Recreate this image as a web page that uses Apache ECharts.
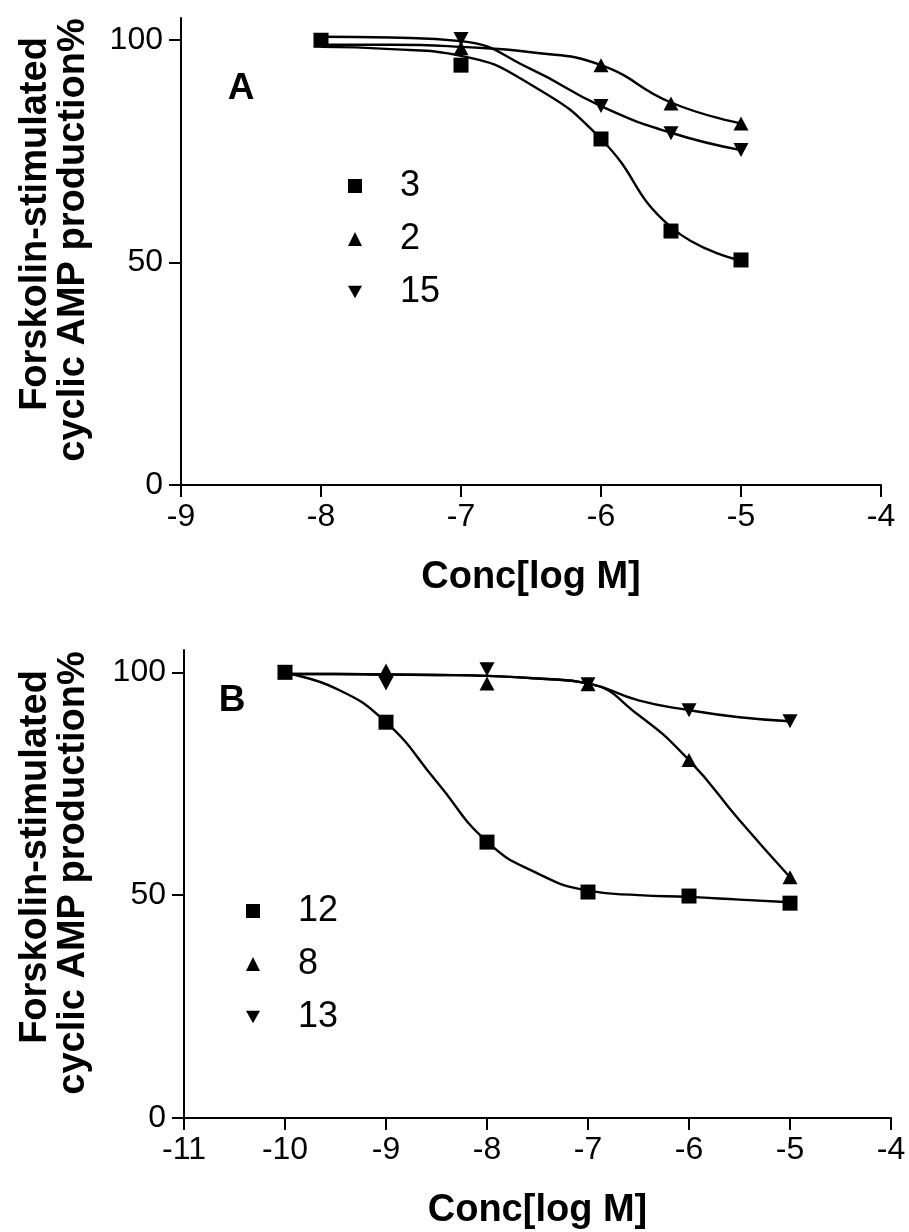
<!DOCTYPE html>
<html><head><meta charset="utf-8">
<script src="https://cdn.jsdelivr.net/npm/echarts@6/dist/echarts.min.js"></script>
<style>html,body{margin:0;padding:0;background:#fff}#c{width:909px;height:1232px}</style>
</head><body><div id="c"></div>
<script>
// Panel A data (log M concentrations, % of forskolin-stimulated cAMP)
const xA = [-8, -7, -6, -5.5, -5];
const a3 = [100, 94.4, 77.8, 57.1, 50.6];
const a2 = [100, 98.2, 94.4, 85.8, 81.3];
const a15 = [100, 100.3, 85.2, 79.1, 75.3];
// Panel A fitted curves
const fitXA = [-8, -7.5, -7, -6.5, -6, -5.5, -5];
const fitA3 = [98.5, 98, 96.5, 90, 77.8, 58, 50.5];
const fitA2 = [99, 99, 98.5, 97.3, 94.4, 86, 81.3];
const fitA15 = [100.8, 100.6, 99.8, 93.5, 85.2, 79.2, 75.3];
// Panel B data
const xB = [-10, -9, -8, -7, -6, -5];
const b12 = [100, 88.8, 61.9, 50.7, 49.8, 48.2];
const b8 = [100, 100.4, 97.5, 97.3, 80.3, 54];
const b13 = [100, 97.5, 100.7, 97.3, 91.5, 89];
// Panel B fitted curves
const fitXB = [-10, -9.5, -9, -8.5, -8, -7.5, -7, -6.5, -6, -5.5, -5];
const fitB12 = [99.8, 96.4, 88.8, 75.5, 62, 54.9, 51, 50, 49.6, 49, 48.4];
const fitB8 = [99.6, 99.6, 99.5, 99.4, 99.2, 98.6, 97.5, 90.4, 80.3, 66.8, 54];
const fitB13 = [99.6, 99.6, 99.5, 99.4, 99.2, 98.6, 97.5, 93.7, 91.5, 89.9, 89];
// Axis ticks
const yTicks = [0, 50, 100];
const xRangeA = [-9, -4];
const xRangeB = [-11, -4];
const namesA = ['3', '2', '15'];
const namesB = ['12', '8', '13'];
const yTitle1 = 'Forskolin-stimulated';
const yTitle2 = 'cyclic AMP production%';
const xTitle = 'Conc[log M]';

const FONT = '"Liberation Sans", Arial, Helvetica, sans-serif';
const pairs = (xs, ys) => xs.map((x, i) => [x, ys[i]]);
const DOWN = 'path://M0,0L10,0L5,9Z';

function xAxisCfg(idx, range) {
  return {
    gridIndex: idx, type: 'value', min: range[0], max: range[1], interval: 1,
    axisLine: {show: true, onZero: false, lineStyle: {color: '#000', width: 2}},
    axisTick: {show: true, length: 12, lineStyle: {color: '#000', width: 2}},
    axisLabel: {color: '#000', fontSize: 32, fontFamily: FONT, margin: 16},
    splitLine: {show: false},
    name: xTitle, nameLocation: 'middle', nameGap: 74,
    nameTextStyle: {color: '#000', fontSize: 38, fontWeight: 'bold', fontFamily: FONT}
  };
}
function yAxisCfg(idx) {
  return {
    gridIndex: idx, type: 'value', min: 0, max: 105, interval: 50,
    axisLine: {show: true, onZero: false, lineStyle: {color: '#000', width: 2}},
    axisTick: {show: true, length: 12, customValues: yTicks, lineStyle: {color: '#000', width: 2}},
    axisLabel: {color: '#000', fontSize: 32, fontFamily: FONT, margin: 18, customValues: yTicks},
    splitLine: {show: false}
  };
}
function fitLine(idx, xs, ys) {
  return {type: 'line', xAxisIndex: idx, yAxisIndex: idx, data: pairs(xs, ys),
    smooth: 0.5, showSymbol: false, symbol: 'none', silent: true, z: 2,
    lineStyle: {color: '#000', width: 2.4}};
}
function pts(idx, name, xs, ys, symbol, rot, z) {
  return {type: 'scatter', name: name, xAxisIndex: idx, yAxisIndex: idx, data: pairs(xs, ys),
    symbol: symbol, symbolSize: symbol === 'rect' ? 15 : [15, 14], symbolRotate: rot || 0, z: z,
    itemStyle: {color: '#000', opacity: 1}};
}
function legendCfg(names, left, top) {
  return {
    orient: 'vertical', left: left, top: top, itemGap: 17, itemWidth: 14, itemHeight: 14,
    selectedMode: false,
    data: [{name: names[0], icon: 'rect'}, {name: names[1], icon: 'triangle'}, {name: names[2], icon: DOWN}],
    textStyle: {color: '#000', fontSize: 36, fontFamily: FONT, lineHeight: 36, padding: [0, 0, 0, 33]},
    itemStyle: {color: '#000'}
  };
}
function yTitleGraphics(cy0) {
  return [
    {type: 'text', x: 36, y: cy0 - 261, rotation: Math.PI / 2,
     style: {text: yTitle1, fill: '#000', font: 'bold 38px ' + FONT, textAlign: 'center', textVerticalAlign: 'middle'}},
    {type: 'text', x: 74, y: cy0 - 245, rotation: Math.PI / 2,
     style: {text: yTitle2, fill: '#000', font: 'bold 38px ' + FONT, textAlign: 'center', textVerticalAlign: 'middle'}}
  ];
}

const chart = echarts.init(document.getElementById('c'), null, {renderer: 'canvas'});
chart.setOption({
  backgroundColor: '#fff',
  animation: false,
  grid: [
    {left: 181, top: 18, width: 700, height: 467, outerBoundsMode: 'none'},
    {left: 184, top: 650, width: 707, height: 468, outerBoundsMode: 'none'}
  ],
  xAxis: [xAxisCfg(0, xRangeA), xAxisCfg(1, xRangeB)],
  yAxis: [yAxisCfg(0), yAxisCfg(1)],
  legend: [legendCfg(namesA, 343, 163), legendCfg(namesB, 241, 888)],
  graphic: [
    ...yTitleGraphics(485), ...yTitleGraphics(1118),
    {type: 'text', x: 241, y: 89, style: {text: 'A', fill: '#000', font: 'bold 37px ' + FONT, textAlign: 'center', textVerticalAlign: 'middle'}},
    {type: 'text', x: 232, y: 701, style: {text: 'B', fill: '#000', font: 'bold 37px ' + FONT, textAlign: 'center', textVerticalAlign: 'middle'}}
  ],
  series: [
    fitLine(0, fitXA, fitA3), fitLine(0, fitXA, fitA2), fitLine(0, fitXA, fitA15),
    pts(0, namesA[1], xA, a2, 'triangle', 0, 3),
    pts(0, namesA[2], xA, a15, 'triangle', 180, 4),
    pts(0, namesA[0], xA, a3, 'rect', 0, 5),
    fitLine(1, fitXB, fitB12), fitLine(1, fitXB, fitB8), fitLine(1, fitXB, fitB13),
    pts(1, namesB[1], xB, b8, 'triangle', 0, 3),
    pts(1, namesB[2], xB, b13, 'triangle', 180, 4),
    pts(1, namesB[0], xB, b12, 'rect', 0, 5)
  ]
});
</script>
</body></html>
